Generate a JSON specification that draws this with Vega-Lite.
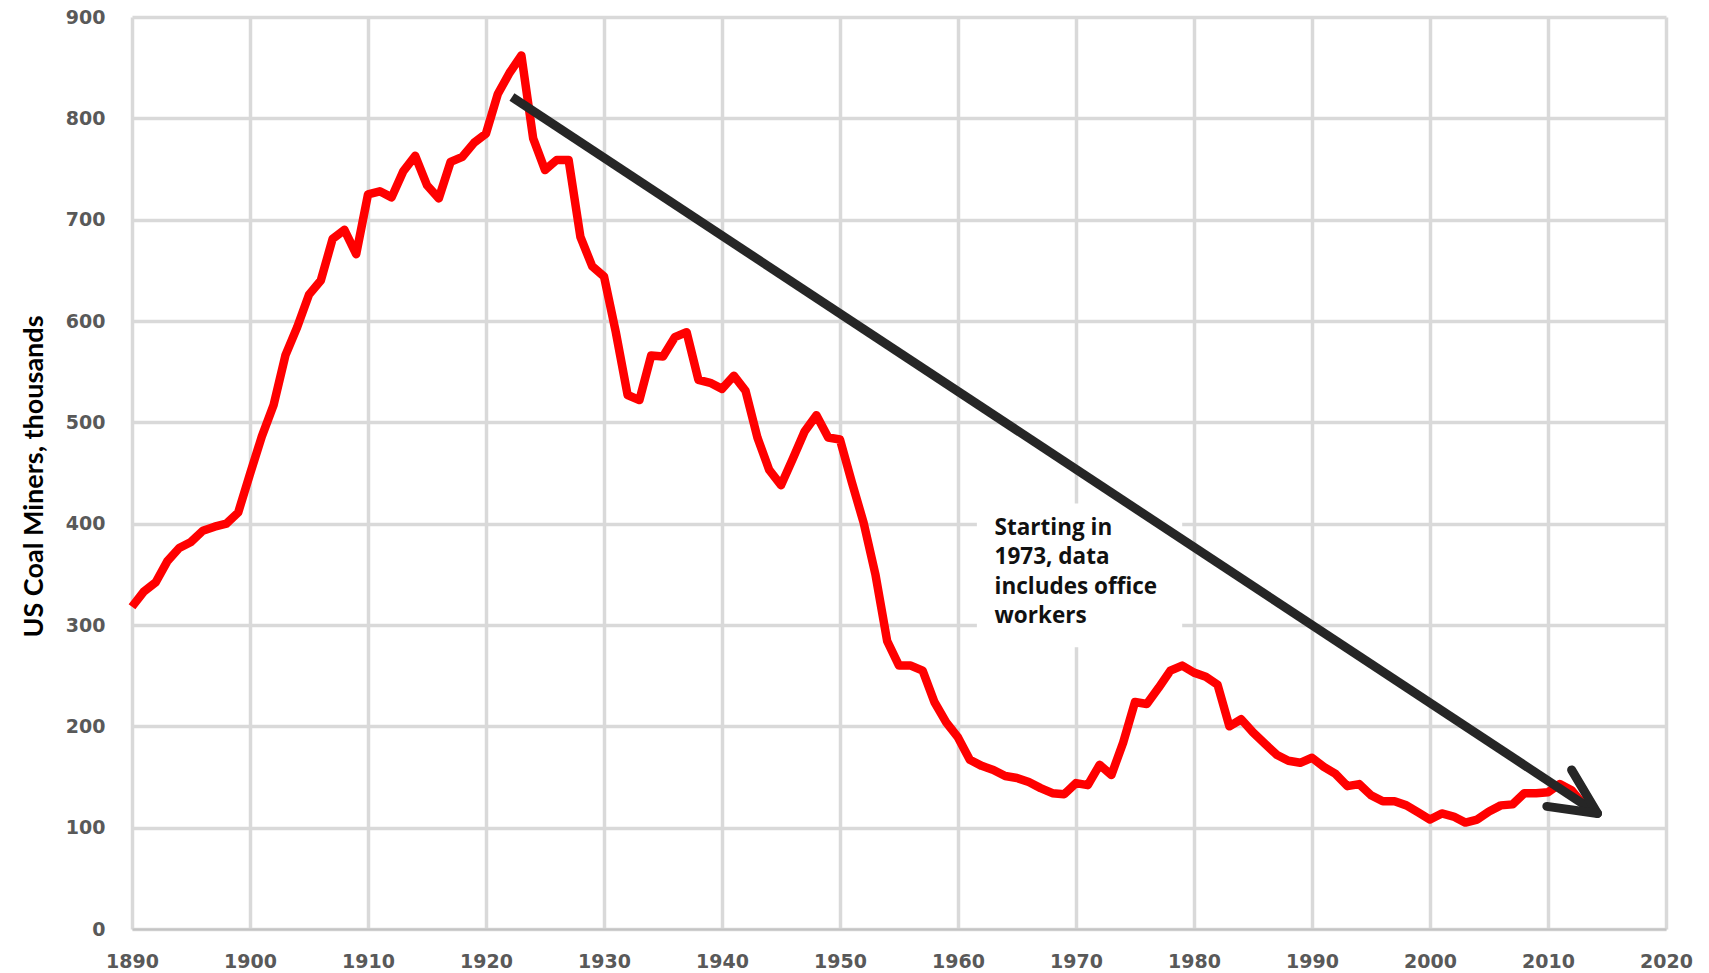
{
  "$schema": "https://vega.github.io/schema/vega-lite/v6.json",
  "width": 1534,
  "height": 912,
  "autosize": {"type": "none"},
  "padding": {"left": 132, "top": 17, "right": 43, "bottom": 44},
  "background": "white",
  "config": {
    "view": {"stroke": null},
    "axis": {
      "grid": true, "gridColor": "#d9d9d9", "gridWidth": 3.5, "ticks": false, "domain": false,
      "labelFont": "DejaVu Sans", "labelFontWeight": "bold", "labelFontSize": 19, "labelColor": "#595959",
      "labelFlush": false, "labelOverlap": false, "labelBound": false
    },
    "axisX": {"tickCount": 13, "labelPadding": 23, "domain": true, "domainColor": "#c4c4c4", "domainWidth": 2, "format": "d"},
    "axisY": {
      "tickCount": 9, "labelPadding": 27,
      "titleFont": "Lato", "titleFontSize": 27, "titleFontWeight": "bold", "titleColor": "#000000",
      "titleAngle": 270, "titleX": -90, "titleY": 459, "titleAlign": "center", "titleBaseline": "alphabetic"
    }
  },
  "datasets": {
    "miners": [
      {"year": 1890, "value": 318}, {"year": 1891, "value": 333}, {"year": 1892, "value": 342}, {"year": 1893, "value": 363},
      {"year": 1894, "value": 376}, {"year": 1895, "value": 382}, {"year": 1896, "value": 393}, {"year": 1897, "value": 397},
      {"year": 1898, "value": 400}, {"year": 1899, "value": 411}, {"year": 1900, "value": 449}, {"year": 1901, "value": 486},
      {"year": 1902, "value": 517}, {"year": 1903, "value": 566}, {"year": 1904, "value": 594}, {"year": 1905, "value": 626},
      {"year": 1906, "value": 640}, {"year": 1907, "value": 681}, {"year": 1908, "value": 690}, {"year": 1909, "value": 666},
      {"year": 1910, "value": 725}, {"year": 1911, "value": 728}, {"year": 1912, "value": 722}, {"year": 1913, "value": 748},
      {"year": 1914, "value": 763}, {"year": 1915, "value": 734}, {"year": 1916, "value": 721}, {"year": 1917, "value": 757},
      {"year": 1918, "value": 762}, {"year": 1919, "value": 776}, {"year": 1920, "value": 785}, {"year": 1921, "value": 824},
      {"year": 1922, "value": 845}, {"year": 1923, "value": 862}, {"year": 1924, "value": 780}, {"year": 1925, "value": 749},
      {"year": 1926, "value": 759}, {"year": 1927, "value": 759}, {"year": 1928, "value": 683}, {"year": 1929, "value": 654},
      {"year": 1930, "value": 644}, {"year": 1931, "value": 589}, {"year": 1932, "value": 527}, {"year": 1933, "value": 522},
      {"year": 1934, "value": 566}, {"year": 1935, "value": 565}, {"year": 1936, "value": 584}, {"year": 1937, "value": 589},
      {"year": 1938, "value": 542}, {"year": 1939, "value": 539}, {"year": 1940, "value": 533}, {"year": 1941, "value": 546},
      {"year": 1942, "value": 531}, {"year": 1943, "value": 485}, {"year": 1944, "value": 453}, {"year": 1945, "value": 438},
      {"year": 1946, "value": 464}, {"year": 1947, "value": 491}, {"year": 1948, "value": 507}, {"year": 1949, "value": 485},
      {"year": 1950, "value": 483}, {"year": 1951, "value": 441}, {"year": 1952, "value": 401}, {"year": 1953, "value": 350},
      {"year": 1954, "value": 284}, {"year": 1955, "value": 260}, {"year": 1956, "value": 260}, {"year": 1957, "value": 255},
      {"year": 1958, "value": 224}, {"year": 1959, "value": 204}, {"year": 1960, "value": 189}, {"year": 1961, "value": 167},
      {"year": 1962, "value": 161}, {"year": 1963, "value": 157}, {"year": 1964, "value": 151}, {"year": 1965, "value": 149},
      {"year": 1966, "value": 145}, {"year": 1967, "value": 139}, {"year": 1968, "value": 134}, {"year": 1969, "value": 133},
      {"year": 1970, "value": 144}, {"year": 1971, "value": 142}, {"year": 1972, "value": 162}, {"year": 1973, "value": 152},
      {"year": 1974, "value": 184}, {"year": 1975, "value": 224}, {"year": 1976, "value": 222}, {"year": 1977, "value": 238},
      {"year": 1978, "value": 255}, {"year": 1979, "value": 260}, {"year": 1980, "value": 253}, {"year": 1981, "value": 249},
      {"year": 1982, "value": 241}, {"year": 1983, "value": 200}, {"year": 1984, "value": 207}, {"year": 1985, "value": 194},
      {"year": 1986, "value": 183}, {"year": 1987, "value": 172}, {"year": 1988, "value": 166}, {"year": 1989, "value": 164},
      {"year": 1990, "value": 169}, {"year": 1991, "value": 160}, {"year": 1992, "value": 153}, {"year": 1993, "value": 141},
      {"year": 1994, "value": 143}, {"year": 1995, "value": 132}, {"year": 1996, "value": 126}, {"year": 1997, "value": 126},
      {"year": 1998, "value": 122}, {"year": 1999, "value": 115}, {"year": 2000, "value": 108}, {"year": 2001, "value": 114},
      {"year": 2002, "value": 111}, {"year": 2003, "value": 105}, {"year": 2004, "value": 108}, {"year": 2005, "value": 116},
      {"year": 2006, "value": 122}, {"year": 2007, "value": 123}, {"year": 2008, "value": 134}, {"year": 2009, "value": 134},
      {"year": 2010, "value": 135}, {"year": 2011, "value": 143}, {"year": 2012, "value": 137}, {"year": 2013, "value": 123},
      {"year": 2014, "value": 116}
    ],
    "noteBox": [{"year": 1961.6, "year2": 1979.0, "value": 420, "value2": 278}],
    "shaft": [{"year": 1922.2, "value": 821, "year2": 2014.2, "value2": 114}],
    "head": [
      {"year": 2012.0, "value": 157, "year2": 2014.2, "value2": 114},
      {"year": 2009.9, "value": 121, "year2": 2014.2, "value2": 114}
    ],
    "note": [{"year": 1963.1, "value": 389, "label": "Starting in\n1973, data\nincludes office\nworkers"}]
  },
  "layer": [
    {
      "data": {"name": "noteBox"},
      "mark": {"type": "rect", "color": "white"},
      "encoding": {
        "x": {"field": "year", "type": "quantitative", "axis": {"title": null}},
        "x2": {"field": "year2"},
        "y": {"field": "value", "type": "quantitative", "axis": {"title": "US Coal Miners, thousands"}},
        "y2": {"field": "value2"}
      }
    },
    {
      "data": {"name": "miners"},
      "mark": {"type": "line", "color": "#ff0000", "strokeWidth": 8.5, "strokeJoin": "round", "strokeCap": "butt"},
      "encoding": {
        "x": {"field": "year", "type": "quantitative", "scale": {"domain": [1890, 2020], "nice": false, "zero": false}, "axis": {"title": null}},
        "y": {"field": "value", "type": "quantitative", "scale": {"domain": [0, 900], "nice": false}, "axis": {"title": "US Coal Miners, thousands"}}
      }
    },
    {
      "data": {"name": "shaft"},
      "mark": {"type": "rule", "color": "#262626", "strokeWidth": 9, "strokeCap": "butt"},
      "encoding": {
        "x": {"field": "year", "type": "quantitative", "axis": {"title": null}},
        "x2": {"field": "year2"},
        "y": {"field": "value", "type": "quantitative", "axis": {"title": "US Coal Miners, thousands"}},
        "y2": {"field": "value2"}
      }
    },
    {
      "data": {"name": "head"},
      "mark": {"type": "rule", "color": "#262626", "strokeWidth": 9, "strokeCap": "round"},
      "encoding": {
        "x": {"field": "year", "type": "quantitative", "axis": {"title": null}},
        "x2": {"field": "year2"},
        "y": {"field": "value", "type": "quantitative", "axis": {"title": "US Coal Miners, thousands"}},
        "y2": {"field": "value2"}
      }
    },
    {
      "data": {"name": "note"},
      "mark": {"type": "text", "align": "left", "baseline": "alphabetic", "font": "Open Sans", "fontWeight": "bold", "fontSize": 22.5, "lineHeight": 29.5, "lineBreak": "\n", "color": "#111111"},
      "encoding": {
        "x": {"field": "year", "type": "quantitative", "axis": {"title": null}},
        "y": {"field": "value", "type": "quantitative", "axis": {"title": "US Coal Miners, thousands"}},
        "text": {"field": "label"}
      }
    }
  ]
}
